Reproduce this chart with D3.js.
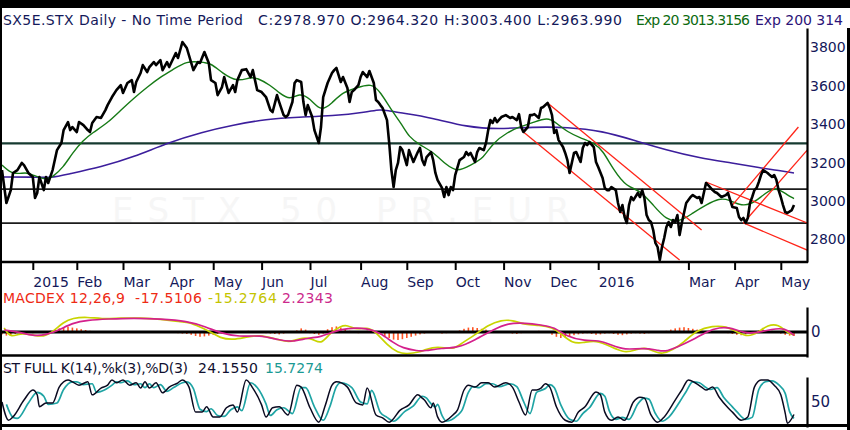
<!DOCTYPE html>
<html>
<head>
<meta charset="utf-8">
<script src="https://cdn.jsdelivr.net/npm/d3@7"></script>
<style>
body { margin: 0; background: #fff; }
text { font-family: "DejaVu Sans", sans-serif; }
</style>
</head>
<body>
<script>
// x is trading-day index, 0 = mid Dec 2014
const monthTicks = [14, 34, 55, 76, 96, 118, 140, 163, 184, 206, 228, 249, 271, 312, 333, 354]
const monthLabels = ["2015", "Feb", "Mar", "Apr", "May", "Jun", "Jul", "Aug", "Sep", "Oct", "Nov", "Dec", "2016", "Mar", "Apr", "May"]
const priceTicks = [2800, 3000, 3200, 3400, 3600, 3800]
const levels = [3300, 3062, 2885]

const closes = [
  [0,3161],[2,2990],[4,3057],[5,3146],[7,3161],[9,3198],[10,3187],[12,3146],[14,3125],[15,3016],[16,3042],[17,3125],[19,3057],[20,3125],[21,3094],[23,3161],[24,3213],[25,3265],[27,3302],[28,3369],[30,3411],[31,3369],[32,3385],[34,3359],[35,3411],[37,3395],[39,3369],[40,3359],[41,3406],[43,3437],[45,3432],[47,3473],[48,3499],[50,3541],[52,3577],[54,3603],[55,3562],[57,3614],[59,3629],[60,3567],[61,3619],[63,3666],[64,3707],[66,3671],[67,3697],[69,3723],[70,3707],[72,3733],[73,3681],[75,3723],[76,3697],[79,3770],[80,3744],[82,3827],[84,3796],[87,3681],[89,3723],[90,3718],
  [92,3775],[94,3718],[95,3629],[97,3614],[98,3551],[100,3593],[101,3645],[103,3562],[105,3603],[106,3567],[107,3629],[109,3681],[111,3686],[113,3645],[114,3681],[116,3577],[118,3567],[120,3541],[122,3473],[123,3463],[125,3551],[126,3515],[128,3447],[129,3437],[130,3447],[132,3515],[133,3614],[134,3629],[136,3619],[137,3515],[138,3447],[139,3499],[141,3437],[142,3369],[144,3302],[145,3385],[146,3541],[148,3614],[150,3666],[151,3681],[152,3692],[154,3619],[155,3645],[157,3588],[158,3515],[159,3567],[160,3577],[162,3603],[163,3645],[164,3671],[166,3645],[167,3676],[169,3614],[170,3525],[171,3515],[172,3499],[173,3484],[175,3421],[176,3302],[177,3161],[178,3073],[179,3161],[180,3198],[181,3281],
  [182,3265],[184,3187],[185,3265],[187,3203],[189,3255],[190,3276],[191,3213],[192,3187],[193,3229],[195,3255],[196,3213],[197,3146],[198,3109],[200,3068],[201,3021],[202,3073],[203,3031],[204,3073],[205,3057],[206,3135],[208,3213],[210,3229],[211,3255],[212,3239],[213,3250],[215,3203],[216,3255],[217,3276],[219,3265],[220,3302],[221,3369],[222,3421],[223,3406],[224,3432],[225,3411],[227,3437],[229,3447],[231,3432],[232,3437],[234,3421],[235,3452],[236,3385],[237,3359],[239,3385],[240,3447],[241,3447],[242,3452],[244,3432],[245,3484],[246,3489],[248,3510],[249,3484],[250,3447],[251,3354],[252,3369],[253,3317],[255,3281],[256,3250],[257,3213],[258,3146],[259,3198],[260,3250],[261,3255],[263,3203],[264,3276],[265,3302],[266,3291],[267,3307],[269,3281],[270,3203],[271,3177],[273,3120],[274,3068],
  [275,3057],[276,3057],[277,3073],[279,3057],[280,2990],[281,2943],[282,2979],[283,2917],[284,2886],[285,2979],[286,3021],[287,3005],[289,3042],[290,3021],[291,3057],[292,3016],[293,2927],[294,2901],[295,2891],[296,2849],[297,2782],[298,2761],[299,2693],[300,2761],[301,2808],[302,2865],[303,2891],[304,2865],[305,2901],[306,2891],[307,2927],[308,2823],[309,2886],[310,2938],[311,2990],[313,3021],[314,3031],[316,3016],[317,3021],[318,2990],[319,3042],[320,3094],[321,3083],[323,3057],[324,3047],[325,3042],[327,3021],[329,3031],[330,3042],[331,3005],[332,2969],[334,2964],[335,2917],[336,2901],[337,2912],[338,2886],[339,2912],[340,2990],[341,3021],[342,3057],[343,3068],[344,3099],[345,3135],[346,3161],[348,3146],[349,3135],[350,3125],[351,3135],[352,3109],[353,3057],[354,3021],[355,2979],[356,2943],[357,2938],[359,2953],[360,2979]
]

const ema20 = [[0,3187],[5,3135],[11,3151],[14,3135],[20,3109],[23,3125],[28,3177],[32,3250],[37,3317],[41,3354],[48,3406],[54,3473],[60,3536],[66,3593],[72,3645],[78,3686],[84,3728],[90,3723],[95,3718],[100,3666],[107,3619],[113,3645],[116,3640],[122,3603],[126,3562],[131,3525],[135,3562],[140,3536],[145,3463],[150,3510],[155,3567],[161,3588],[168,3614],[172,3567],[177,3473],[182,3395],[185,3333],[190,3291],[196,3255],[202,3187],[207,3151],[213,3187],[219,3224],[223,3302],[230,3359],[235,3385],[241,3406],[248,3437],[252,3406],[257,3359],[263,3328],[269,3302],[273,3265],[278,3161],[284,3073],[290,3057],[296,2979],[302,2901],[308,2891],[314,2938],[320,2979],[326,3016],[331,3005],[335,2979],[340,2979],[345,3021],[350,3068],[354,3057],[357,3031],[360,3013]]

const ema200 = [[0,3125],[14,3125],[22,3120],[30,3140],[45,3177],[60,3229],[75,3302],[91,3359],[105,3395],[120,3426],[135,3437],[150,3442],[166,3463],[172,3478],[176,3468],[182,3458],[196,3432],[211,3385],[226,3374],[241,3385],[257,3385],[273,3364],[287,3317],[302,3265],[317,3224],[332,3198],[345,3172],[352,3161],[360,3146]]

const trendLines = [
  [[248,3510],[318,2849]],
  [[237,3359],[308,2693]],
  [[320,3099],[366,2886]],
  [[337,2886],[366,2745]],
  [[332,2979],[362,3385]],
  [[337,2886],[366,3265]]
]

const macdLine = [[1,20],[4,-30],[8,-5],[14,-15],[19,-25],[23,0],[28,50],[32,70],[39,75],[45,65],[54,70],[63,70],[72,65],[81,50],[85,50],[90,25],[95,0],[99,-30],[105,-40],[111,-25],[117,-15],[123,-30],[131,-55],[135,-30],[141,-30],[145,-65],[149,-5],[154,30],[157,35],[161,10],[166,25],[170,0],[175,-65],[180,-105],[184,-110],[190,-100],[192,-90],[198,-70],[205,-90],[209,-55],[215,-15],[221,35],[227,60],[232,60],[238,35],[244,35],[250,25],[255,-15],[259,-55],[264,-55],[270,-40],[277,-75],[283,-105],[288,-90],[292,-75],[297,-100],[300,-110],[305,-90],[310,-50],[316,10],[323,30],[329,30],[335,-5],[339,-25],[344,0],[348,35],[353,40],[357,-5],[360,-15]]

const signalLine = [[1,10],[8,0],[14,-20],[20,-15],[26,10],[32,45],[39,60],[48,65],[60,70],[72,65],[84,55],[93,25],[99,-5],[108,-25],[117,-15],[126,-40],[132,-50],[139,-30],[145,-25],[150,0],[157,20],[166,20],[172,-5],[178,-55],[182,-80],[189,-95],[192,-95],[200,-80],[207,-80],[215,-40],[223,10],[230,45],[238,45],[245,35],[251,25],[257,-25],[265,-45],[271,-40],[277,-65],[283,-90],[291,-80],[298,-90],[301,-100],[307,-75],[314,-40],[320,0],[326,25],[332,20],[337,-5],[343,-5],[350,15],[356,20],[360,-17]]

// one bar every second day, starting at day 0
const macdHist = [
  -12,-18,-15,-10,-6,
  -4,-3,-6,-2,2,4,6,
  10,18,24,26,22,18,14,10,
  6,4,2,-2,-4,-2,3,5,4,2,-2,-3,-5,-3,2,4,3,1,-2,-4,-6,-8,-10,
  -14,-20,-24,-22,-18,-14,
  -10,-8,-6,-4,-2,2,4,6,3,-2,
  -4,-6,-8,-10,-12,-8,-4,-2,
  8,18,12,
  -6,-10,-14,-8,
  14,24,28,22,14,
  6,-2,-6,2,6,4,-4,
  -10,-20,-30,-38,-40,-36,-30,-24,-18,-12,
  -8,-4,-2,-4,-8,-6,-2,2,
  8,16,22,24,20,16,12,6,
  2,4,0,-4,-8,-10,-6,-2,2,4,6,2,-2,
  -14,-24,-30,-26,-20,
  -16,-12,-8,-6,-10,-14,-12,-8,-6,-10,-14,-16,-12,-8,-6,-8,-10,-6,-4,-2,2,
  6,12,18,22,24,20,16,12,8,
  6,4,2,0,-4,-6,
  -10,-14,-16,-12,-6,
  4,8,12,10,6,2,
  -8,-14,-18,-20
]

const stochK = [[0,50],[3,12],[5,19],[10,54],[14,75],[16,65],[17,40],[20,48],[23,48],[26,81],[30,96],[32,92],[35,85],[39,92],[41,65],[45,79],[48,85],[50,96],[52,90],[55,96],[58,85],[61,90],[63,79],[65,92],[67,79],[70,90],[73,69],[76,81],[80,90],[82,96],[85,81],[88,29],[91,29],[93,40],[96,19],[99,19],[102,38],[105,44],[107,29],[111,96],[114,79],[118,44],[120,19],[123,38],[126,40],[130,23],[134,85],[136,81],[140,38],[144,8],[147,44],[150,85],[152,92],[157,81],[161,48],[164,44],[166,79],[170,23],[173,17],[176,8],[181,33],[185,44],[189,65],[191,58],[192,54],[195,38],[196,48],[198,19],[200,8],[205,23],[207,33],[210,75],[212,85],[215,81],[218,90],[221,90],[224,81],[229,90],[232,81],[235,50],[238,23],[241,75],[243,75],[245,79],[247,88],[249,81],[252,40],[256,12],[259,8],[262,29],[265,40],[270,71],[272,65],[274,29],[277,12],[280,19],[283,12],[287,50],[290,60],[292,58],[295,23],[298,8],[301,19],[306,54],[309,75],[312,96],[315,90],[318,81],[320,75],[323,81],[326,60],[330,38],[332,29],[336,12],[339,19],[342,81],[345,96],[348,96],[351,85],[354,65],[356,27],[357,6],[360,24]]

const stochD = [[2,45],[5,18],[7,16],[12,48],[16,70],[19,62],[21,45],[25,48],[28,76],[32,92],[34,92],[37,86],[41,88],[43,70],[47,76],[50,85],[52,92],[54,90],[57,94],[60,86],[63,88],[65,80],[67,88],[69,80],[72,86],[75,72],[78,80],[82,90],[84,92],[87,78],[90,35],[93,30],[95,36],[98,22],[101,20],[104,34],[107,40],[109,32],[113,90],[116,80],[120,46],[122,22],[125,34],[128,38],[132,26],[136,80],[138,80],[142,40],[146,12],[149,40],[152,82],[154,90],[159,80],[163,50],[166,46],[168,74],[172,28],[175,18],[178,10],[183,30],[187,42],[191,62],[193,58],[194,52],[197,40],[198,45],[200,22],[202,10],[207,22],[209,32],[212,70],[214,82],[217,80],[220,88],[223,88],[226,82],[231,88],[234,82],[237,52],[240,26],[243,70],[245,74],[247,78],[249,86],[251,80],[254,44],[258,14],[261,10],[264,26],[267,38],[272,68],[274,62],[276,32],[279,14],[282,18],[285,14],[289,46],[292,58],[294,56],[297,26],[300,10],[303,18],[308,50],[311,72],[314,92],[317,90],[320,80],[322,76],[325,80],[328,60],[332,40],[334,30],[338,14],[341,18],[344,76],[347,92],[350,94],[353,86],[356,68],[358,30],[360,16]]

const svgWidth = 850
const svgHeight = 430
const navy = "#14195a"

const svg = d3.select("body").append("svg")
    .attr("width", svgWidth)
    .attr("height", svgHeight)

const x = d3.scaleLinear().domain([0, 362]).range([2, 798.4])
const y = d3.scaleLinear().domain([2683, 3900]).range([262, 28])
const yMacd = d3.scaleLinear().domain([-125, 125]).range([357, 307])
const yStoch = d3.scaleLinear().domain([-2, 102]).range([427, 377])

svg.append("defs").append("clipPath").attr("id", "mainClip")
  .append("rect").attr("x", 2).attr("y", 28).attr("width", 805).attr("height", 234)

// faint watermark
svg.append("text")
  .attr("x", 112).attr("y", 222)
  .attr("font-size", 34)
  .attr("letter-spacing", 14)
  .attr("fill", "#f6f6f6")
  .text("ESTX 50 PR.EUR")

// header
const header = [
  {t: "SX5E.STX Daily -  No Time Period", x: 3, w: 240, c: navy},
  {t: "C:2978.970 O:2964.320 H:3003.400 L:2963.990", x: 258, w: 364, c: navy},
  {t: "Exp 20 3013.3156", x: 636, w: 114, c: "#0c6a10"},
  {t: "Exp 200 314", x: 755, w: 88, c: "#2c1478"}
]
svg.selectAll("text.head").data(header).enter().append("text")
  .attr("class", "head")
  .attr("x", d => d.x).attr("y", 25)
  .attr("font-size", 14)
  .attr("textLength", d => d.w)
  .attr("fill", d => d.c)
  .text(d => d.t)

// price panel
const mainG = svg.append("g").attr("clip-path", "url(#mainClip)")

mainG.selectAll("line.level").data(levels).enter().append("line")
  .attr("x1", 0).attr("x2", 807)
  .attr("y1", d => y(d)).attr("y2", d => y(d))
  .attr("stroke", (d, i) => i === 0 ? "#163a30" : "#1c1c1c")
  .attr("stroke-width", (d, i) => i === 0 ? 2.4 : 1.6)

const line = d3.line().x(d => x(d[0])).y(d => y(d[1]))
const smooth = d3.line().x(d => x(d[0])).y(d => y(d[1])).curve(d3.curveBasis)

mainG.append("path").datum(ema200)
  .attr("d", smooth).attr("fill", "none")
  .attr("stroke", "#3c1e9c").attr("stroke-width", 1.6)

mainG.append("path").datum(ema20)
  .attr("d", smooth).attr("fill", "none")
  .attr("stroke", "#167a16").attr("stroke-width", 1.4)

mainG.selectAll("path.trend").data(trendLines).enter().append("path")
  .attr("class", "trend")
  .attr("d", line).attr("fill", "none")
  .attr("stroke", "#ff2418").attr("stroke-width", 1.3)

mainG.append("path").datum(closes)
  .attr("d", line).attr("fill", "none")
  .attr("stroke", "#000").attr("stroke-width", 2.6)
  .attr("stroke-linejoin", "round")

// right price axis
const yAxis = d3.axisRight(y).tickValues(priceTicks).tickFormat(d3.format("d"))
  .tickSize(0).tickSizeOuter(0).tickPadding(3)
const yAxisG = svg.append("g")
  .attr("transform", "translate(807,0)")
  .call(yAxis)
yAxisG.select(".domain").attr("stroke", "#000").attr("stroke-width", 2.2)
yAxisG.selectAll("text").attr("font-size", 14).attr("fill", navy).attr("font-family", "DejaVu Sans")

// time axis
svg.append("line").attr("x1", 0).attr("x2", 808).attr("y1", 262).attr("y2", 262)
  .attr("stroke", "#000").attr("stroke-width", 2.4)

const xAxis = d3.axisBottom(x).tickValues(monthTicks).tickSize(8).tickSizeOuter(0)
  .tickFormat((d, i) => monthLabels[i])
const xAxisG = svg.append("g")
  .attr("transform", "translate(0,262)")
  .call(xAxis)
xAxisG.select(".domain").remove()
xAxisG.selectAll(".tick line").attr("stroke", "#000").attr("stroke-width", 2)
xAxisG.selectAll("text")
  .attr("text-anchor", "start").attr("x", 0).attr("y", 25).attr("dy", null)
  .attr("font-size", 14).attr("fill", navy).attr("font-family", "DejaVu Sans")

// MACD panel
const macdLabels = [
  {t: "MACDEX 12,26,9", x: 3, w: 122, c: "#ee2a14"},
  {t: "-17.5106", x: 135, w: 67, c: "#ee2a14"},
  {t: "-15.2764", x: 208, w: 69, c: "#c4c400"},
  {t: "2.2343", x: 282, w: 51, c: "#cc2a8c"}
]
svg.selectAll("text.macdlab").data(macdLabels).enter().append("text")
  .attr("class", "macdlab")
  .attr("x", d => d.x).attr("y", 303)
  .attr("font-size", 14)
  .attr("textLength", d => d.w)
  .attr("fill", d => d.c)
  .text(d => d.t)

svg.selectAll("rect.hist").data(macdHist).enter().append("rect")
  .attr("class", "hist")
  .attr("x", (d, i) => x(i * 2) - 0.8)
  .attr("width", 1.6)
  .attr("y", d => yMacd(Math.max(0, d)))
  .attr("height", d => Math.abs(yMacd(d) - yMacd(0)))
  .attr("fill", "#ff5424")

svg.append("line").attr("x1", 0).attr("x2", 807).attr("y1", yMacd(0)).attr("y2", yMacd(0))
  .attr("stroke", "#000").attr("stroke-width", 3)

const macdPath = d3.line().x(d => x(d[0])).y(d => yMacd(d[1])).curve(d3.curveBasis)
svg.append("path").datum(macdLine)
  .attr("d", macdPath).attr("fill", "none")
  .attr("stroke", "#c8d400").attr("stroke-width", 1.7)
svg.append("path").datum(signalLine)
  .attr("d", macdPath).attr("fill", "none")
  .attr("stroke", "#d4208c").attr("stroke-width", 1.7)

svg.append("line").attr("x1", 0).attr("x2", 808).attr("y1", 355.5).attr("y2", 355.5)
  .attr("stroke", "#000").attr("stroke-width", 2.6)

const macdAxisG = svg.append("g")
  .attr("transform", "translate(807,0)")
  .call(d3.axisRight(yMacd).tickValues([0]).tickSize(0).tickSizeOuter(0).tickPadding(4))
macdAxisG.select(".domain").attr("stroke", "#000").attr("stroke-width", 2.2)
macdAxisG.selectAll("text").attr("font-size", 15).attr("fill", navy).attr("font-family", "DejaVu Sans")

// stochastic panel
const stochLabels = [
  {t: "ST FULL K(14),%k(3),%D(3)", x: 3, w: 185, c: "#101030"},
  {t: "24.1550", x: 198, w: 60, c: "#101030"},
  {t: "15.7274", x: 265, w: 58, c: "#1a9a94"}
]
svg.selectAll("text.stlab").data(stochLabels).enter().append("text")
  .attr("class", "stlab")
  .attr("x", d => d.x).attr("y", 373)
  .attr("font-size", 14)
  .attr("textLength", d => d.w)
  .attr("fill", d => d.c)
  .text(d => d.t)

const stochPath = d3.line().x(d => x(d[0])).y(d => yStoch(d[1])).curve(d3.curveMonotoneX)
svg.append("path").datum(stochD)
  .attr("d", stochPath).attr("fill", "none")
  .attr("stroke", "#1fa4a4").attr("stroke-width", 1.7)
svg.append("path").datum(stochK)
  .attr("d", stochPath).attr("fill", "none")
  .attr("stroke", "#0a0a20").attr("stroke-width", 1.5)

const stochAxisG = svg.append("g")
  .attr("transform", "translate(807,0)")
  .call(d3.axisRight(yStoch).tickValues([50]).tickSize(0).tickSizeOuter(0).tickPadding(4))
stochAxisG.select(".domain").attr("stroke", "#000").attr("stroke-width", 2.2)
stochAxisG.selectAll("text").attr("font-size", 15).attr("fill", navy).attr("font-family", "DejaVu Sans")

// frame
svg.append("rect").attr("x", 0).attr("y", 0).attr("width", svgWidth).attr("height", 8).attr("fill", "#000")
svg.append("rect").attr("x", 0).attr("y", 0).attr("width", 2).attr("height", svgHeight).attr("fill", "#000")
svg.append("rect").attr("x", 847).attr("y", 28).attr("width", 3).attr("height", svgHeight).attr("fill", "#000")
svg.append("rect").attr("x", 0).attr("y", 424).attr("width", svgWidth).attr("height", 3).attr("fill", "#000")
</script>
</body>
</html>
